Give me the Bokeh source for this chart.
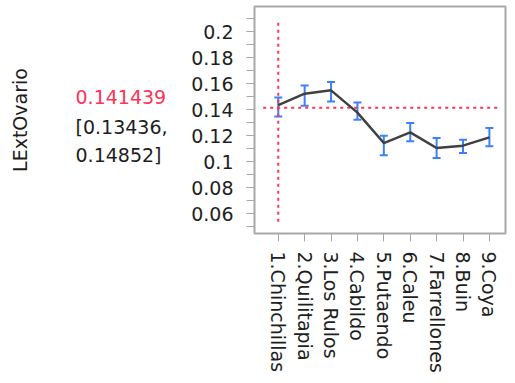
import math
from bokeh.plotting import figure
from bokeh.layouts import row
from bokeh.models import (Range1d, Whisker, TeeHead, ColumnDataSource, FixedTicker,
                          SingleIntervalTicker, CustomJSTickFormatter)
from bokeh.core.properties import value
from bokeh.embed import file_html
from bokeh.resources import INLINE

# ---- data ----
sites = ["1.Chinchillas", "2.Quilitapia", "3.Los Rulos", "4.Cabildo", "5.Putaendo",
         "6.Caleu", "7.Farrellones", "8.Buin", "9.Coya"]
means = [0.1435, 0.1523, 0.1549, 0.1377, 0.1143, 0.1225, 0.1105, 0.1123, 0.1187]
upper = [0.1494, 0.1587, 0.1613, 0.1455, 0.1200, 0.1297, 0.1182, 0.1169, 0.1259]
lower = [0.1348, 0.1431, 0.1464, 0.1322, 0.1049, 0.1156, 0.1028, 0.1067, 0.1118]
response = "LExtOvario"
grand_mean = 0.141439
ci_low = 0.13436
ci_high = 0.14852

# ---- style ----
FONT = "DejaVu Sans"
FS = "19px"
GRAY = "#a8a8a8"
RED = "#ff3355"
BLUE = "#3c80ff"
TXT = "#1e1e1e"
H = 375
LEFT_W = 180
TOP = 6
BOTTOM = 141

pos = list(range(len(sites)))

# ---------- left text panel (pixel-like coordinates, frame aligned with main plot) ----------
lp = figure(width=LEFT_W, height=H, output_backend="svg", toolbar_location=None,
            x_range=Range1d(0, LEFT_W), y_range=Range1d(H - BOTTOM, TOP),
            x_axis_location=None, y_axis_location=None,
            min_border_left=0, min_border_right=0, min_border_top=TOP, min_border_bottom=BOTTOM)
lp.grid.visible = False
lp.outline_line_color = None
lp.text(x=[19], y=[120], text=[response], angle=math.pi / 2,
        text_align="center", text_baseline="middle",
        text_font=value(FONT), text_font_size=FS, text_color=TXT)
lp.text(x=[75], y=[97], text=[f"{grand_mean:.6f}"], text_align="left",
        text_baseline="alphabetic", text_font=value(FONT), text_font_size=FS, text_color=RED)
lp.text(x=[75, 75], y=[127, 155], text=[f"[{ci_low},", f"{ci_high}]"], text_align="left",
        text_baseline="alphabetic", text_font=value(FONT), text_font_size=FS, text_color=TXT)

# ---------- main plot ----------
p = figure(width=507 - LEFT_W, height=H, output_backend="svg", toolbar_location=None,
           x_range=Range1d(-0.9, 8.61), y_range=Range1d(0.0446, 0.2195),
           min_border_left=74, min_border_right=2, min_border_top=TOP, min_border_bottom=BOTTOM)
p.grid.visible = False
p.outline_line_color = GRAY
p.outline_line_width = 2

# y axis
ya = p.yaxis[0]
ya.ticker = SingleIntervalTicker(interval=0.02, num_minor_ticks=2)
ya.formatter = CustomJSTickFormatter(code="return tick.toFixed(2).replace(/0+$/, '').replace(/\\.$/, '');")
ya.axis_line_color = None
ya.major_tick_line_color = GRAY
ya.minor_tick_line_color = GRAY
ya.major_tick_out = 8
ya.minor_tick_out = 8
ya.major_tick_in = 0
ya.minor_tick_in = 0
ya.major_label_text_font = FONT
ya.major_label_text_font_size = FS
ya.major_label_text_color = TXT
ya.major_label_standoff = 13

# x axis
xa = p.xaxis[0]
xa.ticker = FixedTicker(ticks=pos)
xa.major_label_overrides = {i: s for i, s in zip(pos, sites)}
xa.axis_line_color = None
xa.major_tick_line_color = GRAY
xa.minor_tick_line_color = None
xa.major_tick_out = 8
xa.major_tick_in = 0
xa.major_label_orientation = "vertical"
xa.major_label_text_font = FONT
xa.major_label_text_font_size = FS
xa.major_label_text_color = TXT
xa.major_label_standoff = 10

# reference lines (red dotted)
p.segment(x0=[pos[0]], x1=[pos[0]], y0=[0.207], y1=[0.051],
          line_color=RED, line_width=2, line_dash="3 4")
p.segment(x0=[pos[0] - 0.57], x1=[pos[-1] + 0.34], y0=[grand_mean], y1=[grand_mean],
          line_color=RED, line_width=2, line_dash="3 4")

# mean line
p.line(x=pos, y=means, line_color="#404040", line_width=2.5)

# error bars
src = ColumnDataSource(dict(x=pos, upper=upper, lower=lower))
w = Whisker(base="x", upper="upper", lower="lower", source=src, dimension="height",
            line_color=BLUE, line_width=2,
            upper_head=TeeHead(size=8, line_color=BLUE, line_width=2),
            lower_head=TeeHead(size=8, line_color=BLUE, line_width=2))
p.add_layout(w)

layout = row(lp, p, spacing=0)
open("out.html", "w").write(file_html(layout, INLINE))
